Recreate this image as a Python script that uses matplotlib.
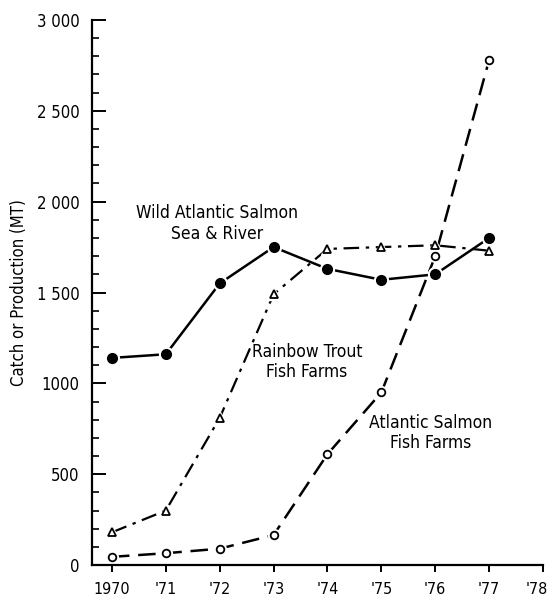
import matplotlib
matplotlib.use('Agg')
import matplotlib.pyplot as plt
import matplotlib.transforms as mtransforms
from matplotlib.ticker import MultipleLocator

years = [1970, 1971, 1972, 1973, 1974, 1975, 1976, 1977]
wild_salmon = [1140, 1160, 1550, 1750, 1630, 1570, 1600, 1800]
rainbow_trout = [180, 300, 810, 1490, 1740, 1750, 1760, 1730]
salmon_farms = [45, 65, 90, 165, 610, 950, 1700, 2780]

x_ticks = [1970, 1971, 1972, 1973, 1974, 1975, 1976, 1977, 1978]
x_labels = ["1970", "'71", "'72", "'73", "'74", "'75", "'76", "'77", "'78"]
y_ticks = [0, 500, 1000, 1500, 2000, 2500, 3000]
y_labels = ["0", "500", "1000", "1 500", "2 000", "2 500", "3 000"]

plt.rcParams['font.family'] = ['DejaVu Sans']
plt.rcParams['font.stretch'] = 'condensed'

fig = plt.figure(figsize=(5.52, 6.0), dpi=100)
ax = fig.add_axes([0.1667, 0.0583, 0.8170, 0.9084])

# lines
ax.plot(years, wild_salmon, color='black', lw=1.8, solid_capstyle='butt')
ax.plot(years, rainbow_trout, color='black', lw=1.6, dashes=(7, 3, 1.5, 3))
ax.plot(years, salmon_farms, color='black', lw=1.8, dashes=(7, 3.5))

# white halos to mimic gaps at markers
ax.plot(years, wild_salmon, 'o', ms=10, color='white', mec='white')
ax.plot(years, rainbow_trout, '^', ms=9, color='white', mec='white')
ax.plot(years, salmon_farms, 'o', ms=8.5, color='white', mec='white')

ax.plot(years, wild_salmon, 'o', ms=7, color='black')
ax.plot(years, rainbow_trout, '^', ms=6, mfc='white', mec='black', mew=1.3)
ax.plot(years, salmon_farms, 'o', ms=5.5, mfc='white', mec='black', mew=1.3)

ax.set_xlim(1969.63, 1978)
ax.set_ylim(0, 3000)

ax.spines['top'].set_visible(False)
ax.spines['right'].set_visible(False)
ax.spines['left'].set_linewidth(1.6)
ax.spines['bottom'].set_linewidth(1.6)

ax.set_xticks(x_ticks)
ax.set_xticklabels(x_labels, fontsize=11.5)
ax.set_yticks(y_ticks)
ax.set_yticklabels(y_labels, fontsize=12)
ax.yaxis.set_minor_locator(MultipleLocator(100))
ax.tick_params(axis='x', direction='out', length=5, width=1.4, pad=7)
ax.tick_params(axis='y', which='major', direction='in', length=10, width=1.4, pad=9)
ax.tick_params(axis='y', which='minor', direction='in', length=5, width=1.2)

# nudge the last x label so it stays inside the figure
last = ax.get_xticklabels()[-1]
last.set_transform(last.get_transform() +
                   mtransforms.ScaledTranslation(-6 / 100, 0, fig.dpi_scale_trans))

ax.set_ylabel('Catch or Production (MT)', fontsize=12, labelpad=6)

ax.text(1971.95, 1880, 'Wild Atlantic Salmon\nSea & River', fontsize=12.5,
        ha='center', va='center', linespacing=1.15)
ax.text(1973.62, 1115, 'Rainbow Trout\nFish Farms', fontsize=12.5,
        ha='center', va='center', linespacing=1.15)
ax.text(1975.91, 725, 'Atlantic Salmon\nFish Farms', fontsize=12.5,
        ha='center', va='center', linespacing=1.15)

fig.savefig('out.png', dpi=100)
